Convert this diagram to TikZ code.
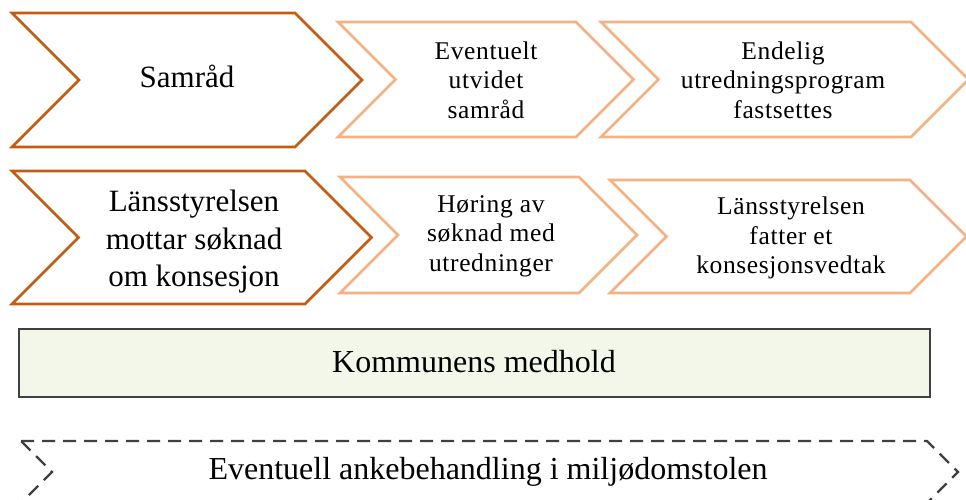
\documentclass[tikz,border=0pt]{standalone}
\usepackage{fontspec}
\setmainfont{Liberation Serif}
\newfontfamily\spacedfont[LetterSpace=2.5]{Liberation Serif}
\definecolor{darkorange}{HTML}{C55A11}
\definecolor{lightorange}{HTML}{F4B183}
\definecolor{boxfill}{HTML}{F3F7EA}
\definecolor{edgegray}{HTML}{404040}
\newcommand{\chevpath}[5]{%
  \pgfmathsetmacro\hh{(#5-#4)/2}%
  \pgfmathsetmacro\mm{(#5+#4)/2}%
  \draw[#1] (#2,#4) -- (#3,#4) -- ({#3+\hh},\mm) -- (#3,#5) -- (#2,#5) -- ({#2+\hh},\mm) -- cycle;}
\tikzset{
  darkchev/.style={draw=darkorange, line width=2.6pt, fill=white, line join=miter},
  lightchev/.style={draw=lightorange, line width=2.6pt, fill=white, line join=miter},
  bigtext/.style={align=center, font=\fontsize{31}{37.5}\selectfont, text=black, inner sep=0pt},
  smalltext/.style={align=center, font=\spacedfont\fontsize{25.5}{29.5}\selectfont, text=black, inner sep=0pt},
  medbox/.style={draw=edgegray, line width=2pt, fill=boxfill},
  ankeline/.style={draw=edgegray, line width=2.4pt, dash pattern=on 13pt off 8pt}
}
\begin{document}
\begin{tikzpicture}[x=1pt,y=-1pt]
\useasboundingbox (0,0) rectangle (966,499);
\clip (0,0) rectangle (966,499);
\fill[white] (0,0) rectangle (966,499);
% row 1
\chevpath{darkchev}{12}{295}{13}{147}
\chevpath{lightchev}{338}{576}{22}{137}
\chevpath{lightchev}{601}{911}{22}{137}
\node[bigtext] (samrad) at (187,76) {Samråd};
\node[smalltext] (utvidet) at (486,80) {Eventuelt\\utvidet\\samråd};
\node[smalltext] (program) at (783,80) {Endelig\\utredningsprogram\\fastsettes};
% row 2
\chevpath{darkchev}{12}{305}{171}{304}
\chevpath{lightchev}{340}{579}{177}{293}
\chevpath{lightchev}{610}{910}{180}{293}
\node[bigtext] (soknad) at (194,242) {Länsstyrelsen\\mottar søknad\\om konsesjon};
\node[smalltext] (horing) at (491,236) {Høring av\\søknad med\\utredninger};
\node[smalltext] (vedtak) at (791,238) {Länsstyrelsen\\fatter et\\konsesjonsvedtak};
% row 3
\draw[medbox] (19,329) rectangle (930,397);
\node[bigtext, font=\fontsize{32}{38}\selectfont] (medhold) at (474,362) {Kommunens medhold};
% row 4
\draw[ankeline] (21,441) -- (927,441) -- (958,472) -- (927,503) -- (21,503) -- (52,472) -- cycle;
\node[bigtext, font=\fontsize{32}{38}\selectfont] (anke) at (488,472) {Eventuell ankebehandling i miljødomstolen};
\end{tikzpicture}
\end{document}
